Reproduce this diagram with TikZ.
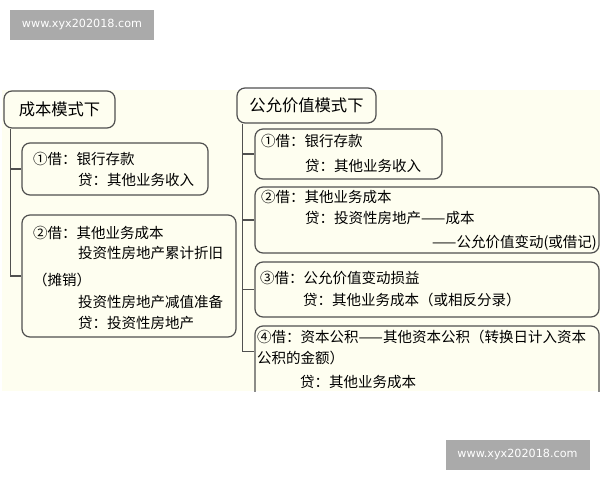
\documentclass[tikz,border=0pt]{standalone}
\usepackage{fontspec}
\setmainfont{Noto Sans CJK SC}
\newfontfamily\markfont{DejaVu Sans}
\usepackage{xcolor}
\usepackage{tikz}
\usetikzlibrary{positioning}

\definecolor{paper}{RGB}{254,254,240}
\definecolor{edge}{RGB}{80,80,80}
\definecolor{markgray}{RGB}{170,170,170}

\tikzset{
  card/.style={draw=edge, line width=1.2pt, rounded corners=8pt, inner sep=0pt},
  title/.style={card, font=\fontsize{16.3}{18}\selectfont},
  entry/.style={anchor=west, inner sep=0pt, font=\fontsize{14.5}{16}\selectfont},
  branch/.style={draw=edge, line width=1.2pt},
  wmark/.style={fill=markgray, text=white, inner sep=0pt, minimum width=144pt,
    minimum height=30pt, font=\markfont\fontsize{11.2}{13}\selectfont}
}

\begin{document}
\begin{tikzpicture}[x=1pt,y=-1pt]
  \useasboundingbox (0,0) rectangle (600,480);
  \fill[white] (0,0) rectangle (600,480);
  \fill[paper] (2,90) rectangle (600,391);

  % watermarks
  \node[wmark] (wmtop) at (82,25) {www.xyx202018.com};
  \node[wmark] (wmbot) at (517.5,455) {www.xyx202018.com};

  \begin{scope}
    \clip (0,80) rectangle (600,391);

    % cost model
    \node[title, minimum width=111pt, minimum height=37pt] (cost) at (59.5,109.5) {成本模式下};
    \node[card, minimum width=186pt, minimum height=52pt] (costa) at (115,169) {};
    \node[card, minimum width=214pt, minimum height=122pt] (costb) at (129,276) {};
    \coordinate (costroot) at ([xshift=7pt]cost.south west);
    \draw[branch] (costroot) |- (costb.west);
    \draw[branch] (costroot |- costa.west) -- (costa.west);

    \node[entry] (costa1) at (33,159) {①借：银行存款};
    \node[entry] (costa2) at (78,180) {贷：其他业务收入};
    \node[entry] (costb1) at (33,233) {②借：其他业务成本};
    \node[entry] (costb2) at (78,253) {投资性房地产累计折旧};
    \node[entry] (costb3) at (33,280) {（摊销）};
    \node[entry] (costb4) at (78,302) {投资性房地产减值准备};
    \node[entry] (costb5) at (78,323) {贷：投资性房地产};

    % fair value model
    \node[title, minimum width=139pt, minimum height=35pt] (fair) at (306.5,105.5) {公允价值模式下};
    \node[card, minimum width=187pt, minimum height=50pt] (faira) at (348.5,154) {};
    \node[card, minimum width=344pt, minimum height=66pt] (fairb) at (427,220) {};
    \node[card, minimum width=344pt, minimum height=55pt] (fairc) at (427,289.5) {};
    \node[card, minimum width=344pt, minimum height=84pt] (faird) at (427,368) {};
    \coordinate (fairroot) at ([xshift=6pt]fair.south west);
    \coordinate (fairdin) at ([yshift=-26pt]faird.north west);
    \draw[branch] (fairroot) |- (fairdin);
    \foreach \b in {faira,fairb,fairc}
      \draw[branch] (fairroot |- \b.west) -- (\b.west);

    \node[entry] (faira1) at (261,141) {①借：银行存款};
    \node[entry] (faira2) at (305,166) {贷：其他业务收入};
    \node[entry] (fairb1) at (261,197) {②借：其他业务成本};
    \node[entry] (fairb2) at (305,218) {贷：投资性房地产——成本};
    \node[entry, anchor=east] (fairb3) at (597,243) {——公允价值变动(或借记)};
    \node[entry] (fairc1) at (260,278) {③借：公允价值变动损益};
    \node[entry] (fairc2) at (303,300) {贷：其他业务成本（或相反分录）};
    \node[entry] (faird1) at (257,337) {④借：资本公积——其他资本公积（转换日计入资本};
    \node[entry] (faird2) at (257,358) {公积的金额）};
    \node[entry] (faird3) at (300,382) {贷：其他业务成本};
  \end{scope}
\end{tikzpicture}
\end{document}
